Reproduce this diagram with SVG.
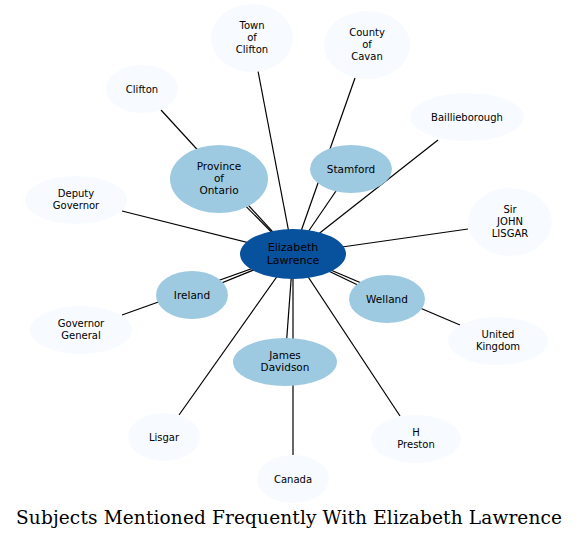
<svg xmlns="http://www.w3.org/2000/svg" width="579" height="539" viewBox="0 0 579 539">
<style>
.edge{stroke:#000;stroke-width:1.2;fill:none}
.outer ellipse{fill:#f7fbff}
.mid ellipse{fill:#9ecae1}
.center ellipse{fill:#08519c}
text{font-family:"DejaVu Sans","Liberation Sans",sans-serif;text-anchor:middle;fill:#000}
.outer text{font-size:10px}
.mid text{font-size:10.5px}
.center text{font-size:11px}
.title{font-family:"DejaVu Serif","Liberation Serif",serif;font-size:18.5px}
</style>
<rect width="579" height="539" fill="#fff"/>
<g id="edges">
<line class="edge" x1="293" y1="254" x2="258" y2="71"/>
<line class="edge" x1="293" y1="254" x2="355" y2="78"/>
<line class="edge" x1="293" y1="254" x2="161" y2="110"/>
<line class="edge" x1="293" y1="254" x2="438" y2="140"/>
<line class="edge" x1="293" y1="254" x2="219" y2="179"/>
<line class="edge" x1="293" y1="254" x2="351" y2="169"/>
<line class="edge" x1="293" y1="254" x2="122" y2="211"/>
<line class="edge" x1="293" y1="254" x2="468" y2="229"/>
<line class="edge" x1="293" y1="254" x2="192" y2="295"/>
<line class="edge" x1="293" y1="254" x2="122" y2="315"/>
<line class="edge" x1="293" y1="254" x2="387" y2="299"/>
<line class="edge" x1="293" y1="254" x2="460" y2="325"/>
<line class="edge" x1="293" y1="254" x2="285" y2="362"/>
<line class="edge" x1="293" y1="254" x2="179" y2="415"/>
<line class="edge" x1="293" y1="254" x2="400" y2="416"/>
<line class="edge" x1="293" y1="254" x2="293" y2="455"/>
</g>
<g id="n-town-of-clifton" class="outer"><ellipse cx="252" cy="38" rx="41" ry="34"/><text x="252" y="29">Town</text><text x="252" y="41">of</text><text x="252" y="53">Clifton</text></g>
<g id="n-county-of-cavan" class="outer"><ellipse cx="367" cy="45" rx="43" ry="34"/><text x="367" y="36">County</text><text x="367" y="48">of</text><text x="367" y="60">Cavan</text></g>
<g id="n-clifton" class="outer"><ellipse cx="142" cy="89" rx="36" ry="24"/><text x="142" y="92.5">Clifton</text></g>
<g id="n-baillieborough" class="outer"><ellipse cx="467" cy="117" rx="57" ry="24"/><text x="467" y="120.5">Baillieborough</text></g>
<g id="n-deputy-governor" class="outer"><ellipse cx="76" cy="200" rx="51" ry="24"/><text x="76" y="197">Deputy</text><text x="76" y="209">Governor</text></g>
<g id="n-sir-john-lisgar" class="outer"><ellipse cx="510" cy="222" rx="42" ry="34"/><text x="510" y="213">Sir</text><text x="510" y="225">JOHN</text><text x="510" y="237">LISGAR</text></g>
<g id="n-governor-general" class="outer"><ellipse cx="81" cy="330" rx="51" ry="24"/><text x="81" y="327">Governor</text><text x="81" y="339">General</text></g>
<g id="n-united-kingdom" class="outer"><ellipse cx="498" cy="341" rx="50" ry="24"/><text x="498" y="338">United</text><text x="498" y="350">Kingdom</text></g>
<g id="n-lisgar" class="outer"><ellipse cx="164" cy="437" rx="36" ry="24"/><text x="164" y="440.5">Lisgar</text></g>
<g id="n-h-preston" class="outer"><ellipse cx="416" cy="439" rx="45" ry="24"/><text x="416" y="436">H</text><text x="416" y="448">Preston</text></g>
<g id="n-canada" class="outer"><ellipse cx="293" cy="479" rx="36" ry="24"/><text x="293" y="482.5">Canada</text></g>
<g id="n-province-of-ontario" class="mid"><ellipse cx="219" cy="179" rx="49" ry="34"/><text x="219" y="170">Province</text><text x="219" y="182">of</text><text x="219" y="194">Ontario</text></g>
<g id="n-stamford" class="mid"><ellipse cx="351" cy="169" rx="41" ry="24"/><text x="351" y="172.5">Stamford</text></g>
<g id="n-ireland" class="mid"><ellipse cx="192" cy="295" rx="36" ry="24"/><text x="192" y="298.5">Ireland</text></g>
<g id="n-welland" class="mid"><ellipse cx="387" cy="299" rx="38" ry="24"/><text x="387" y="302.5">Welland</text></g>
<g id="n-james-davidson" class="mid"><ellipse cx="285" cy="362" rx="52" ry="24"/><text x="285" y="359">James</text><text x="285" y="371">Davidson</text></g>
<g id="n-elizabeth-lawrence" class="center"><ellipse cx="293" cy="254" rx="53" ry="25"/><text x="293" y="251">Elizabeth</text><text x="293" y="264">Lawrence</text></g>
<text class="title" x="289" y="524" textLength="546">Subjects Mentioned Frequently With Elizabeth Lawrence</text>
</svg>
